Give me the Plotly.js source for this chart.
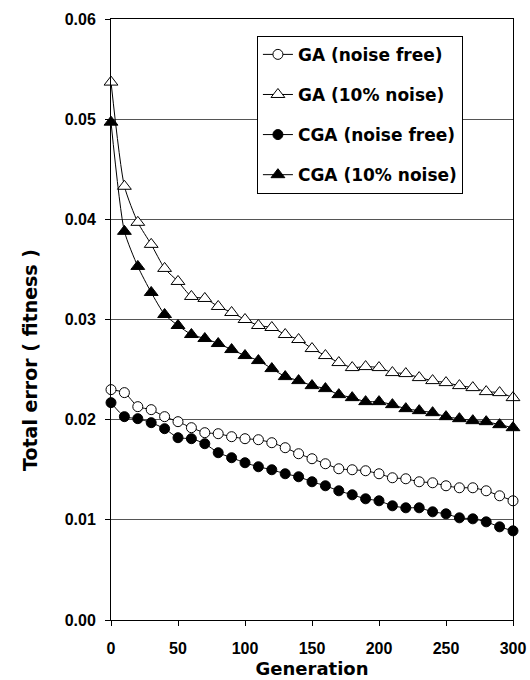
<!DOCTYPE html>
<html>
<head>
<meta charset="utf-8">
<script src="https://cdn.plot.ly/plotly-3.0.1.min.js"></script>
<style>html,body{margin:0;padding:0;background:#fff;}</style>
</head>
<body>
<div id="chart" style="width:530px;height:680px;"></div>
<script>
var generations = [0,10,20,30,40,50,60,70,80,90,100,110,120,130,140,150,160,170,180,190,200,210,220,230,240,250,260,270,280,290,300];

var gaNoiseFree = [0.0230,0.0227,0.0213,0.0210,0.0203,0.0198,0.0192,0.0187,0.0186,0.0183,0.0181,0.0180,0.0177,0.0172,0.0166,0.0161,0.0156,0.0151,0.0150,0.0149,0.0146,0.0142,0.0141,0.0138,0.0137,0.0134,0.0132,0.0132,0.0129,0.0124,0.0119];

var gaNoise10 = [0.0537,0.0433,0.0397,0.0375,0.0351,0.0338,0.0323,0.0321,0.0313,0.0307,0.0300,0.0294,0.0292,0.0285,0.0280,0.0271,0.0264,0.0257,0.0252,0.0253,0.0252,0.0247,0.0246,0.0242,0.0239,0.0237,0.0234,0.0232,0.0228,0.0227,0.0222];

var cgaNoiseFree = [0.0217,0.0203,0.0201,0.0197,0.0191,0.0182,0.0181,0.0176,0.0167,0.0162,0.0157,0.0153,0.0150,0.0146,0.0143,0.0138,0.0134,0.0129,0.0125,0.0121,0.0119,0.0114,0.0112,0.0112,0.0108,0.0106,0.0102,0.0101,0.0098,0.0093,0.0089];

var cgaNoise10 = [0.0497,0.0388,0.0353,0.0327,0.0305,0.0294,0.0285,0.0281,0.0276,0.0270,0.0264,0.0259,0.0251,0.0243,0.0239,0.0234,0.0231,0.0225,0.0222,0.0218,0.0218,0.0215,0.0211,0.0209,0.0207,0.0203,0.0201,0.0199,0.0198,0.0195,0.0192];

var seriesNames = ["GA (noise free)","GA (10% noise)","CGA (noise free)","CGA (10% noise)"];
var yTicks = [0,0.01,0.02,0.03,0.04,0.05,0.06];
var xTicks = [0,50,100,150,200,250,300];
var yTitle = 'Total error ( fitness )';
var xTitle = 'Generation';

function mk(y, name, symbol, fill, size, grp) {
  return {
    x: generations, y: y, name: name, type: 'scatter', mode: 'lines+markers',
    legendgroup: grp, cliponaxis: false,
    line: {color: '#000', width: 1, shape: 'spline', smoothing: 0.6},
    marker: {symbol: symbol, size: size, color: fill, line: {color: '#000', width: 1}}
  };
}

var data = [
  mk(gaNoiseFree, seriesNames[0], 'circle', '#fff', 10, 'g1'),
  mk(gaNoise10, seriesNames[1], 'triangle-up', '#fff', 12, 'g2'),
  mk(cgaNoiseFree, seriesNames[2], 'circle', '#000', 10, 'g3'),
  mk(cgaNoise10, seriesNames[3], 'triangle-up', '#000', 12, 'g4')
];

var tickFont = {family: 'Liberation Sans', size: 16, color: '#000', weight: 'bold'};
var titleFont = {family: 'DejaVu Sans', size: 18, color: '#000', weight: 'bold'};
var yTitleFont = {family: 'DejaVu Sans', size: 19, color: '#000', weight: 'bold'};

var layout = {
  width: 530, height: 680,
  margin: {l: 111, r: 17, t: 19, b: 60},
  paper_bgcolor: '#fff', plot_bgcolor: '#fff',
  showlegend: true,
  legend: {
    x: 0.363, y: 0.972, xanchor: 'left', yanchor: 'top',
    bgcolor: '#fff', bordercolor: '#000', borderwidth: 1,
    font: {family: 'DejaVu Sans', size: 17, color: '#000', weight: 'bold'},
    tracegroupgap: 15, traceorder: 'grouped', itemwidth: 30
  },
  xaxis: {
    range: [0, 300], tickvals: xTicks, ticktext: xTicks.map(String),
    showgrid: false, zeroline: false,
    showline: true, linecolor: '#000', linewidth: 1, mirror: true,
    ticks: 'outside', ticklen: 5, tickcolor: '#000',
    tickfont: tickFont, ticklabelstandoff: 9,
    title: {text: xTitle, font: titleFont, standoff: 6}
  },
  yaxis: {
    range: [0, 0.06], tickvals: yTicks, ticktext: yTicks.map(function(v){return v.toFixed(2);}),
    showgrid: true, gridcolor: '#555', gridwidth: 1, zeroline: false,
    showline: true, linecolor: '#000', linewidth: 1, mirror: true,
    ticks: 'outside', ticklen: 5, tickcolor: '#000',
    tickfont: tickFont, ticklabelstandoff: 6
  },
  annotations: [{
    text: yTitle, xref: 'paper', yref: 'paper',
    x: -0.2015, y: 0.4326, xanchor: 'center', yanchor: 'middle',
    textangle: -90, showarrow: false, font: yTitleFont
  }]
};

Plotly.newPlot('chart', data, layout, {displayModeBar: false, staticPlot: true});
</script>
</body>
</html>
